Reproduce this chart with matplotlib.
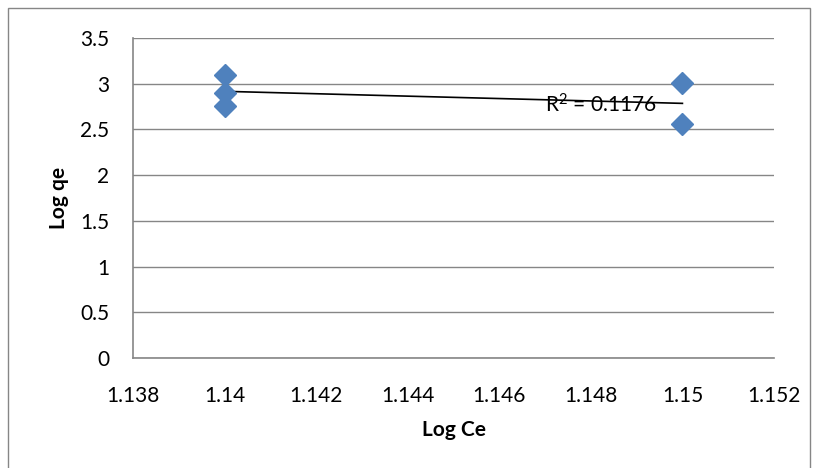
import numpy as np
import matplotlib
matplotlib.use("Agg")
import matplotlib.pyplot as plt
from matplotlib.patches import Rectangle

log_ce = [1.14, 1.14, 1.14, 1.15, 1.15]
log_qe = [3.09, 2.90, 2.76, 3.01, 2.56]
x_ticks = [1.138, 1.14, 1.142, 1.144, 1.146, 1.148, 1.15, 1.152]
x_tick_labels = ["1.138", "1.14", "1.142", "1.144", "1.146", "1.148", "1.15", "1.152"]
y_ticks = [0, 0.5, 1, 1.5, 2, 2.5, 3, 3.5]
y_tick_labels = ["0", "0.5", "1", "1.5", "2", "2.5", "3", "3.5"]
r2_value = "0.1176"

plt.rcParams['font.family'] = ['Lato', 'DejaVu Sans']
plt.rcParams['mathtext.fontset'] = 'custom'
plt.rcParams['mathtext.rm'] = 'Lato'
plt.rcParams['mathtext.it'] = 'Lato'
plt.rcParams['mathtext.default'] = 'regular'

W, H = 817, 468
FS = 15
fig = plt.figure(figsize=(W / 100, H / 100), dpi=100)
fig.patches.append(Rectangle((8 / W, -0.01), (810 - 8) / W, 1 - 8 / H + 0.01,
                             transform=fig.transFigure, fill=False, edgecolor="#868686", lw=1))
ax = fig.add_axes([133 / W, 1 - 358 / H, (774 - 133) / W, (358 - 38) / H])

ax.set_xlim(1.138, 1.152)
ax.set_ylim(0, 3.5)
ax.set_xticks(x_ticks)
ax.set_xticklabels(x_tick_labels)
ax.set_yticks(y_ticks)
ax.set_yticklabels(y_tick_labels)
ax.tick_params(length=0, labelsize=FS)
ax.tick_params(axis='y', pad=17)
ax.tick_params(axis='x', pad=20)
ax.grid(axis='y', color="#868686", lw=1)
ax.set_axisbelow(True)
for s in ["top", "right"]:
    ax.spines[s].set_visible(False)
for s in ["left", "bottom"]:
    ax.spines[s].set_color("#868686")
    ax.spines[s].set_linewidth(1.2)

ax.plot(log_ce, log_qe, linestyle="none", marker="D", markersize=11,
        color="#4F81BD", zorder=3)

xa = np.array(log_ce)
ya = np.array(log_qe)
m, b = np.polyfit(xa, ya, 1)
xs = np.array([xa.min(), xa.max()])
ax.plot(xs, m * xs + b, color="black", lw=1.2, zorder=2)

ax.text(1.14822, 2.767, r"R$^{2}$ = " + r2_value, fontsize=FS, ha="center", va="center", zorder=4)

ax.set_xlabel("Log Ce", fontsize=FS, fontweight="bold", labelpad=10)
ax.set_ylabel("Log qe", fontsize=FS, fontweight="bold", labelpad=8)

fig.savefig("out.png", dpi=100)
